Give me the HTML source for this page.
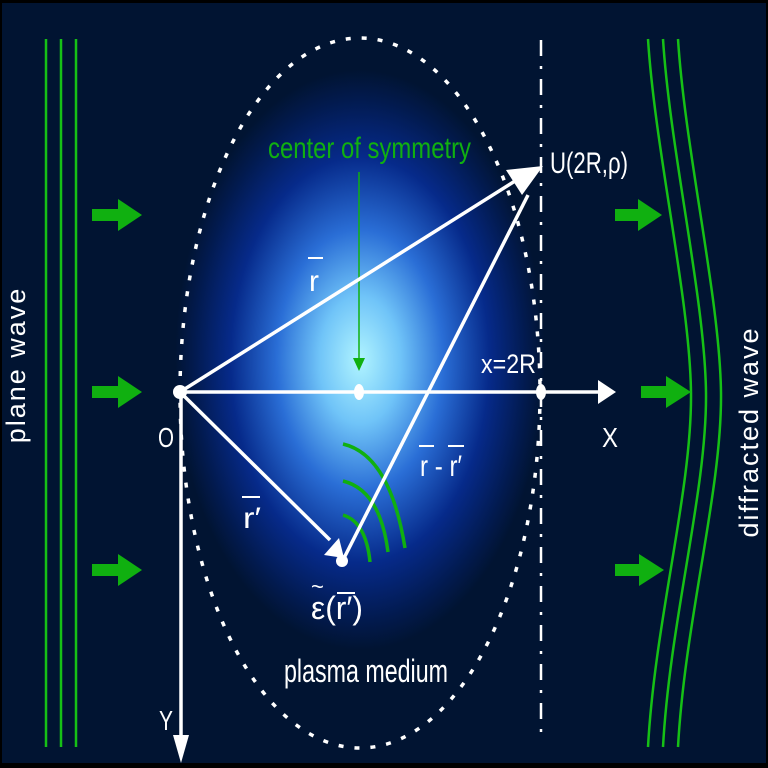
<!DOCTYPE html>
<html><head><style>
html,body{margin:0;padding:0;background:#000;}
svg{display:block;}
text{font-family:"Liberation Sans",sans-serif;}
</style></head><body>
<svg width="768" height="768" viewBox="0 0 768 768" xmlns="http://www.w3.org/2000/svg">
<defs>
<radialGradient id="g" cx="360" cy="365" r="1" gradientUnits="userSpaceOnUse" gradientTransform="translate(360 360) scale(185 290) translate(-360 -365)">
<stop offset="0" stop-color="#b0f4ff"/>
<stop offset="0.22" stop-color="#70c4f8"/>
<stop offset="0.45" stop-color="#2a6ed6"/>
<stop offset="0.7" stop-color="#062a8a"/>
<stop offset="0.9" stop-color="#021a4e"/>
<stop offset="1" stop-color="#011432"/>
</radialGradient>
</defs>
<rect x="2" y="3" width="764" height="760" fill="#011432"/>
<rect x="2" y="3" width="764" height="760" fill="url(#g)"/>
<ellipse cx="360" cy="393" rx="180" ry="355" fill="none" stroke="#fff" stroke-width="3.5" stroke-dasharray="5 11"/>
<line x1="541" y1="40" x2="541" y2="735" stroke="#fff" stroke-width="2.5" stroke-dasharray="16 10 3 10"/>
<g stroke="#16c016" stroke-width="2.5" fill="none">
<line x1="46" y1="39" x2="46" y2="747"/>
<line x1="61" y1="39" x2="61" y2="747"/>
<line x1="76" y1="39" x2="76" y2="747"/>
<path d="M648 39 C655 150 690 300 691 393 C692 490 655 620 648 747"/>
<path d="M663 39 C670 150 705 300 706 393 C707 490 670 620 663 747"/>
<path d="M678 39 C685 150 720 300 721 393 C722 490 685 620 678 747"/>
</g>
<g fill="#10b010">
<path d="M92 209h26v-10l24 16l-24 16v-10h-26z"/>
<path d="M92 386h26v-10l24 16l-24 16v-10h-26z"/>
<path d="M92 564h26v-10l24 16l-24 16v-10h-26z"/>
<path d="M615 209h23v-10l24 16l-24 16v-10h-23z"/>
<path d="M641 386h25v-10l25 16l-25 16v-10h-25z"/>
<path d="M615 564h24v-10l25 16l-25 16v-10h-24z"/>
</g>
<line x1="359" y1="172" x2="359" y2="360" stroke="#10b010" stroke-width="1.5"/>
<path d="M353 358h12l-6 13z" fill="#10b010"/>
<g stroke="#10b010" stroke-width="3.5" fill="none">
<path d="M343 444 Q390 455 405 548"/>
<path d="M343 481 Q380 490 388 552"/>
<path d="M343 515 Q366 522 370 562"/>
</g>
<g stroke="#fff" stroke-width="3.5" fill="none">
<line x1="180" y1="392" x2="598" y2="392"/>
<line x1="181" y1="392" x2="181" y2="740"/>
<line x1="180" y1="392" x2="515" y2="181"/>
<line x1="180" y1="392" x2="330" y2="540"/>
<line x1="342" y1="562" x2="528" y2="195"/>
</g>
<path d="M598 380l18 12l-18 12z" fill="#fff"/>
<path d="M173 735l8 28l8 -28z" fill="#fff"/>
<path d="M543 166l-37 4l16 25z" fill="#fff"/>
<path d="M344 558l-20 -3l15 -17z" fill="#fff"/>
<circle cx="180" cy="392" r="7" fill="#fff"/>
<ellipse cx="359" cy="392" rx="5" ry="8" fill="#fff"/>
<ellipse cx="541" cy="392" rx="5" ry="8" fill="#fff"/>
<circle cx="342" cy="561" r="6" fill="#fff"/>
<g fill="#fff" font-size="28">
<text x="158" y="447" textLength="16" lengthAdjust="spacingAndGlyphs">O</text>
<text x="602" y="447" textLength="16" lengthAdjust="spacingAndGlyphs">X</text>
<text x="159" y="730" textLength="14" lengthAdjust="spacingAndGlyphs">Y</text>
<text x="481" y="373" font-size="27" textLength="55" lengthAdjust="spacingAndGlyphs">x=2R</text>
<text x="550" y="173" font-size="30" textLength="78" lengthAdjust="spacingAndGlyphs">U(2R,ρ)</text>
<text x="309" y="291" font-size="30" textLength="10" lengthAdjust="spacingAndGlyphs">r</text>
<line x1="308" y1="258" x2="323" y2="258" stroke="#fff" stroke-width="2"/>
<text x="243" y="528" font-size="30" textLength="18" lengthAdjust="spacingAndGlyphs">r′</text>
<line x1="242" y1="497" x2="260" y2="497" stroke="#fff" stroke-width="2"/>
<text x="420" y="476" font-size="30" textLength="42" lengthAdjust="spacingAndGlyphs">r - r′</text>
<line x1="419" y1="446" x2="434" y2="446" stroke="#fff" stroke-width="2"/>
<line x1="448" y1="446" x2="464" y2="446" stroke="#fff" stroke-width="2"/>
<text x="311" y="619" font-size="32" textLength="52" lengthAdjust="spacingAndGlyphs">ε(r′)</text>
<text x="311" y="594" font-size="22">~</text>
<line x1="337" y1="593" x2="355" y2="593" stroke="#fff" stroke-width="2"/>
<text x="284" y="682" font-size="32" textLength="164" lengthAdjust="spacingAndGlyphs">plasma medium</text>
</g>
<text x="268" y="158" fill="#10b010" font-size="30" textLength="203" lengthAdjust="spacingAndGlyphs">center of symmetry</text>
<text transform="translate(25 365) rotate(-90)" text-anchor="middle" fill="#fff" font-size="27" letter-spacing="2">plane wave</text>
<text transform="translate(758 432) rotate(-90)" text-anchor="middle" fill="#fff" font-size="27" letter-spacing="2">diffracted wave</text>
</svg>
</body></html>
